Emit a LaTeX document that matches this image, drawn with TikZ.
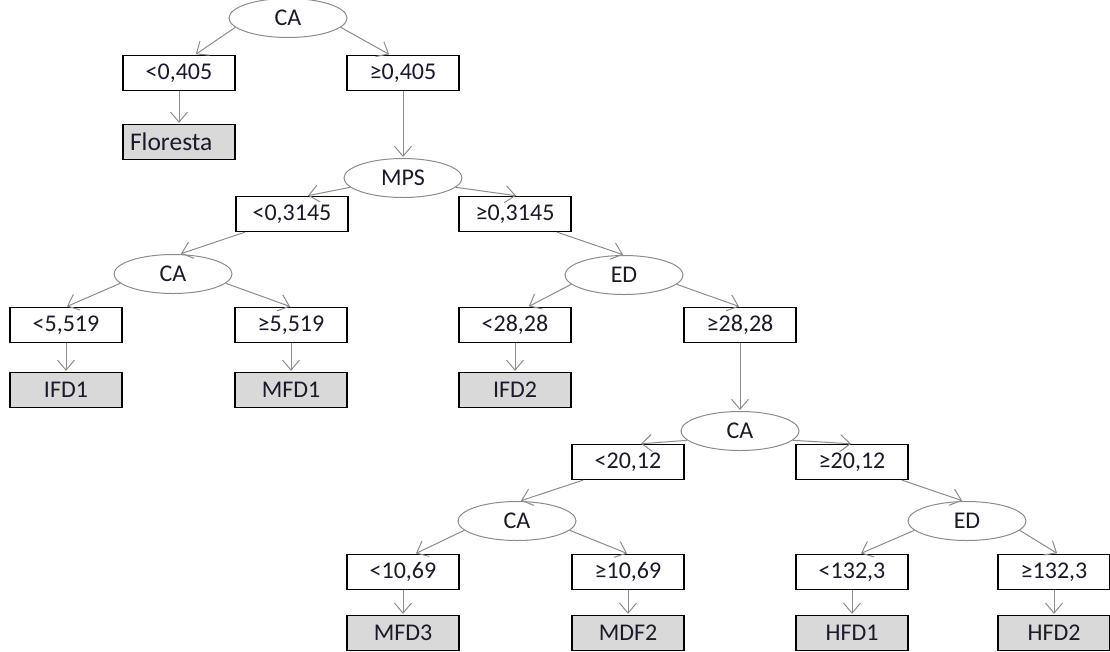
\documentclass[tikz,border=0pt]{standalone}
\usepackage{fontspec}
\setmainfont{Carlito}
\usetikzlibrary{arrows.meta,shapes.geometric}
\definecolor{leafgray}{HTML}{D9D9D9}
\definecolor{linegray}{HTML}{8C8C8C}
\definecolor{txt}{HTML}{1A1A2A}
\begin{document}
\begin{tikzpicture}[x=1pt,y=-1pt,
  cond/.style={draw=black,line width=1.3pt,minimum width=112pt,minimum height=35pt,inner sep=0pt,fill=white,text=txt,font=\fontsize{24}{26}\selectfont},
  leaf/.style={cond,fill=leafgray},
  attr/.style={ellipse,draw=linegray,line width=1pt,minimum width=118pt,minimum height=39pt,inner sep=0pt,fill=white,text=txt,font=\fontsize{24}{26}\selectfont},
  arr/.style={draw=linegray,line width=1pt,-{Straight Barb[length=10pt,width=17pt]},shorten >=1pt}]
\useasboundingbox (0,0) rectangle (1110,651);
% nodes
\node[attr] (ca1) at (288,18) {CA};
\node[cond] (c1l) at (179,73) {<0,405};
\node[cond] (c1r) at (403,73) {≥0,405};
\node[leaf,text width=98pt,align=left,font=\fontsize{25.5}{27}\selectfont] (floresta) at (179,142) {Floresta};
\node[attr] (mps) at (403,178) {MPS};
\node[cond] (c2l) at (292,214) {<0,3145};
\node[cond] (c2r) at (515,214) {≥0,3145};
\node[attr] (ca2) at (173,274) {CA};
\node[cond] (c3l) at (66,325) {<5,519};
\node[cond] (c3r) at (291,325) {≥5,519};
\node[leaf] (ifd1) at (66,390) {IFD1};
\node[leaf] (mfd1) at (291,390) {MFD1};
\node[attr] (ed1) at (624,275) {ED};
\node[cond] (c4l) at (515,325) {<28,28};
\node[cond] (c4r) at (740,325) {≥28,28};
\node[leaf] (ifd2) at (515,390) {IFD2};
\node[attr] (ca3) at (740,431) {CA};
\node[cond] (c5l) at (628,462) {<20,12};
\node[cond] (c5r) at (852,462) {≥20,12};
\node[attr] (ca4) at (517,521) {CA};
\node[attr] (ed2) at (967,521) {ED};
\node[cond] (c6l) at (403,572) {<10,69};
\node[cond] (c6r) at (628,572) {≥10,69};
\node[cond] (c7l) at (852,572) {<132,3};
\node[cond] (c7r) at (1054,572) {≥132,3};
\node[leaf] (mfd3) at (403,633) {MFD3};
\node[leaf] (mdf2) at (628,633) {MDF2};
\node[leaf] (hfd1) at (852,633) {HFD1};
\node[leaf] (hfd2) at (1054,633) {HFD2};
% ellipse -> condition arrows
\draw[arr] (ca1.190) -- ([xshift=16pt]c1l.north);
\draw[arr] (ca1.-10) -- ([xshift=-13pt]c1r.north);
\draw[arr] (mps.190) -- ([xshift=15pt]c2l.north);
\draw[arr] (mps.-10) -- ([xshift=2pt]c2r.north);
\draw[arr] (ca2.190) -- ([xshift=0pt]c3l.north);
\draw[arr] (ca2.-10) -- ([xshift=0pt]c3r.north);
\draw[arr] (ed1.190) -- ([xshift=13pt]c4l.north);
\draw[arr] (ed1.-10) -- ([xshift=0pt]c4r.north);
\draw[arr] (ca3.190) -- ([xshift=12pt]c5l.north);
\draw[arr] (ca3.-10) -- ([xshift=0pt]c5r.north);
\draw[arr] (ca4.190) -- ([xshift=12pt]c6l.north);
\draw[arr] (ca4.-10) -- ([xshift=0pt]c6r.north);
\draw[arr] (ed2.190) -- ([xshift=8pt]c7l.north);
\draw[arr] (ed2.-10) -- ([xshift=4pt]c7r.north);
% condition -> next node arrows
\draw[arr] (c1l.south) -- (floresta.north);
\draw[arr] (c1r.south) -- (mps.north);
\draw[arr] ([xshift=-47pt]c2l.south) -- ([xshift=7pt]ca2.north);
\draw[arr] ([xshift=42pt]c2r.south) -- (ed1.north);
\draw[arr] (c3l.south) -- (ifd1.north);
\draw[arr] (c3r.south) -- (mfd1.north);
\draw[arr] (c4l.south) -- (ifd2.north);
\draw[arr] (c4r.south) -- (ca3.north);
\draw[arr] ([xshift=-45pt]c5l.south) -- ([xshift=3pt]ca4.north);
\draw[arr] ([xshift=50pt]c5r.south) -- ([xshift=-4pt]ed2.north);
\draw[arr] (c6l.south) -- (mfd3.north);
\draw[arr] (c6r.south) -- (mdf2.north);
\draw[arr] (c7l.south) -- (hfd1.north);
\draw[arr] (c7r.south) -- (hfd2.north);
\end{tikzpicture}
\end{document}
